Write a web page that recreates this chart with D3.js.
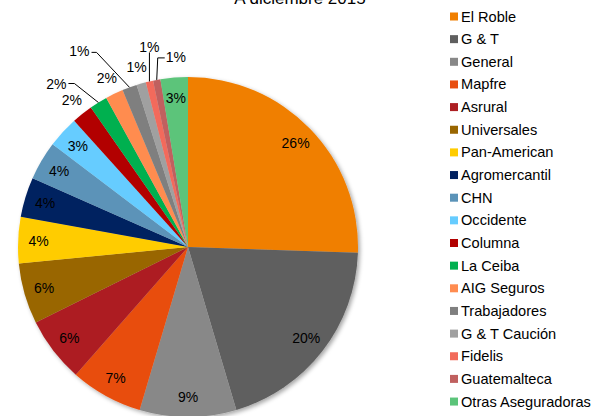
<!DOCTYPE html>
<html>
<head>
<meta charset="utf-8">
<title>A diciembre 2015</title>
<style>
body { margin: 0; overflow: hidden; background: #fff; }
text { font-family: "Liberation Sans", Arial, sans-serif; }
.title { font-size: 17px; fill: #000; }
.pct { font-size: 14px; fill: #000; }
.legend text { font-size: 14.6px; fill: #000; }
</style>
<script src="https://d3js.org/d3.v7.min.js"></script>
</head>
<body>
<svg width="595" height="416"></svg>
<script>
// data
const companies = ['El Roble', 'G & T', 'General', 'Mapfre', 'Asrural', 'Universales',
  'Pan-American', 'Agromercantil', 'CHN', 'Occidente', 'Columna', 'La Ceiba',
  'AIG Seguros', 'Trabajadores', 'G & T Caución', 'Fidelis', 'Guatemalteca', 'Otras Aseguradoras'];
const shares = [25.6, 19.9, 9.2, 6.9, 6.2, 5.8, 4.4, 3.8, 3.7, 3.0, 2.0, 1.7, 1.7, 1.4, 0.9, 0.7, 0.7, 2.6];
const colors = ['#F07F00', '#5F5F5F', '#888888', '#E84E10', '#AD1F23', '#996600',
  '#FFCC00', '#002060', '#5B93B8', '#66CCFF', '#B20000', '#00B050',
  '#FF8C50', '#7F7F7F', '#A0A0A0', '#F26B5B', '#C0605F', '#5BC47A'];

const svg = d3.select('svg');
const cx = 188, cy = 247, radius = 170;

const color = d3.scaleOrdinal().domain(companies).range(colors);
const total = d3.sum(shares);
const data = companies.map((name, i) => ({ name: name, value: shares[i] }));

// small slices sit outside, some with leader lines
const outside = { 'Columna': {}, 'AIG Seguros': {}, 'G & T Caución': {} };
const leaders = {
  'La Ceiba': { ex: -24, ey: -19, hx: -6, anchor: 'end', tdx: -2, tdy: 1 },
  'Trabajadores': { ex: -33, ey: -35, hx: -5, anchor: 'end', tdx: -2, tdy: -1 },
  'Fidelis': { ex: 0, ey: -29, hx: 0, anchor: 'middle', tdx: 0, tdy: -5 },
  'Guatemalteca': { ex: 1, ey: -22, hx: 7, anchor: 'start', tdx: 1, tdy: -1 }
};

const defs = svg.append('defs');
const f = defs.append('filter').attr('id', 'shadow')
  .attr('x', '-10%').attr('y', '-10%').attr('width', '130%').attr('height', '130%');
f.append('feDropShadow').attr('dx', 2).attr('dy', 2).attr('stdDeviation', 2)
  .attr('flood-color', '#000').attr('flood-opacity', 0.35);

svg.append('text')
  .attr('class', 'title')
  .attr('x', 300)
  .attr('y', 4)
  .attr('text-anchor', 'middle')
  .text('A diciembre 2015');

const pie = d3.pie().value(d => d.value).sort(null);
const arc = d3.arc().innerRadius(0).outerRadius(radius);
const arcs = pie(data);

const g = svg.append('g').attr('transform', `translate(${cx},${cy})`);

g.append('g').attr('filter', 'url(#shadow)')
  .selectAll('path').data(arcs)
  .enter().append('path')
    .attr('d', arc)
    .attr('fill', d => color(d.data.name));

const pctFmt = d => Math.round(d.data.value / total * 100) + '%';
const polar = (a, r) => [r * Math.sin(a), -r * Math.cos(a)];
const mid = d => (d.startAngle + d.endAngle) / 2;

arcs.forEach(d => {
  const name = d.data.name;
  const a = mid(d);
  if (leaders[name]) {
    const L = leaders[name];
    const p0 = polar(a, radius);
    const p1 = [p0[0] + L.ex, p0[1] + L.ey];
    const p2 = [p1[0] + L.hx, p1[1]];
    g.append('polyline')
      .attr('points', [p0, p1, p2].map(p => p.join(',')).join(' '))
      .attr('fill', 'none')
      .attr('stroke', '#000')
      .attr('stroke-width', 1);
    g.append('text')
      .attr('class', 'pct')
      .attr('x', p2[0] + L.tdx)
      .attr('y', p2[1] + L.tdy)
      .attr('dy', '0.35em')
      .attr('text-anchor', L.anchor)
      .text(pctFmt(d));
  } else {
    const r = outside[name] ? radius * 1.1 : radius * 0.88;
    const p = polar(a, r);
    g.append('text')
      .attr('class', 'pct')
      .attr('x', p[0])
      .attr('y', p[1])
      .attr('dy', '0.35em')
      .attr('text-anchor', 'middle')
      .text(pctFmt(d));
  }
});

// legend
const legend = svg.selectAll('.legend')
  .data(companies)
  .enter().append('g')
    .attr('class', 'legend')
    .attr('transform', (d, i) => `translate(450,${16.5 + i * 22.65})`);

legend.append('rect')
  .attr('x', 0)
  .attr('y', -4)
  .attr('width', 8)
  .attr('height', 8)
  .attr('fill', d => color(d));

legend.append('text')
  .attr('x', 11)
  .attr('y', 5)
  .text(d => d);
</script>
</body>
</html>
